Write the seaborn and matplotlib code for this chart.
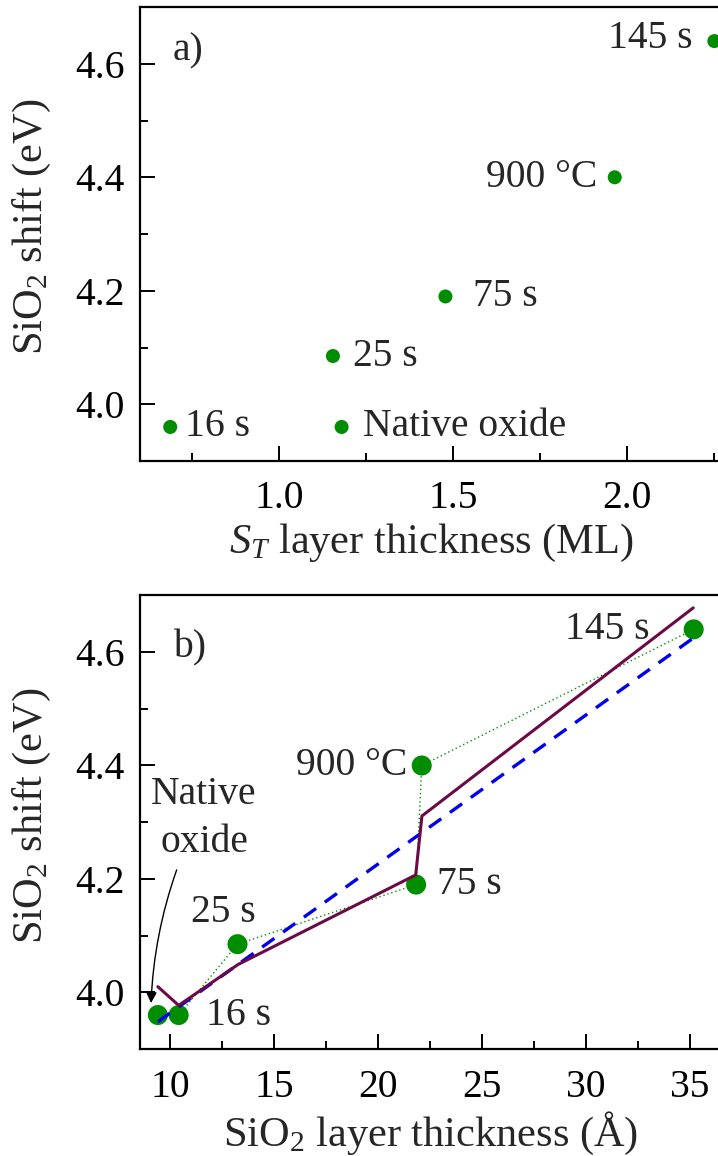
import numpy as np
import pandas as pd
import matplotlib
matplotlib.use("Agg")
import matplotlib.pyplot as plt
from matplotlib.ticker import MultipleLocator
import seaborn as sns

# ---- data ----
sample_labels = ["16 s", "Native oxide", "25 s", "75 s", "900 °C", "145 s"]
sio2_shift = [3.96, 3.96, 4.085, 4.19, 4.40, 4.64]          # eV
st_thickness = [0.688, 1.18, 1.155, 1.478, 1.964, 2.25]      # ML
sio2_thickness = [10.40, 9.40, 13.23, 21.82, 22.09, 35.17]   # Angstrom

# model curve evaluated at the sample thicknesses
model_x = [9.40, 10.40, 13.25, 21.80, 22.10, 35.15]
model_y = [4.010, 3.977, 4.049, 4.207, 4.311, 4.678]

# linear fit
fit_x = [9.40, 35.20]
fit_y = [3.948, 4.626]

sns.set_style("ticks")
plt.rcParams["font.family"] = ["Liberation Serif", "DejaVu Serif"]
plt.rcParams["mathtext.fontset"] = "custom"
plt.rcParams["mathtext.rm"] = "Liberation Serif"
plt.rcParams["mathtext.it"] = "Liberation Serif:italic"

FS = 28.5
FS_LABEL = 30.5
GREEN = "#008E00"
PURPLE = "#6B0A45"

fig = plt.figure(figsize=(7.18, 11.56), dpi=100)
ax_a = fig.add_axes([0.1944, 0.6012, 1.0061 - 0.1944, 0.9939 - 0.6012])
ax_b = fig.add_axes([0.1944, 0.0925, 1.0061 - 0.1944, 0.4850 - 0.0925])

df_a = pd.DataFrame({"x": st_thickness, "y": sio2_shift, "label": sample_labels})
df_b = pd.DataFrame({"x": sio2_thickness, "y": sio2_shift, "label": sample_labels})


def style_axes(ax):
    for side in ["left", "bottom", "top", "right"]:
        ax.spines[side].set_linewidth(1.6)
        ax.spines[side].set_color("black")
    ax.tick_params(which="both", direction="in", top=False, right=False,
                   width=1.4, colors="black", labelsize=FS)
    ax.tick_params(which="major", length=11)
    ax.tick_params(which="minor", length=5.5)
    ax.tick_params(axis="x", which="major", pad=14)
    ax.tick_params(axis="y", which="major", pad=11)
    ax.set_ylim(3.9, 4.7)
    ax.yaxis.set_major_locator(MultipleLocator(0.2))
    ax.yaxis.set_minor_locator(MultipleLocator(0.1))
    ax.yaxis.set_major_formatter(matplotlib.ticker.FormatStrFormatter("%.1f"))
    ax.set_ylabel("SiO$_2$ shift (eV)", fontsize=FS_LABEL)
    ax.yaxis.set_label_coords(-0.148, 0.515)


# ---- panel a ----
sns.scatterplot(data=df_a, x="x", y="y", ax=ax_a, color=GREEN, s=14 ** 2 * 0.52,
                edgecolor="none", legend=False, zorder=3, clip_on=False)
ax_a.set_xlim(0.6, 2.273)
ax_a.xaxis.set_major_locator(MultipleLocator(0.5))
ax_a.xaxis.set_minor_locator(MultipleLocator(0.25))
ax_a.xaxis.set_major_formatter(matplotlib.ticker.FormatStrFormatter("%.1f"))
style_axes(ax_a)
ax_a.set_xlabel("$S_T$ layer thickness (ML)", fontsize=FS_LABEL, labelpad=3)

offsets_a = {
    "16 s": (15, 0, "left"),
    "Native oxide": (21, 0, "left"),
    "25 s": (20, 0, "left"),
    "75 s": (28, 0, "left"),
    "900 °C": (-17, 0, "right"),
    "145 s": (-22, 3, "right"),
}
for xv, yv, lab in zip(st_thickness, sio2_shift, sample_labels):
    dx, dy, ha = offsets_a[lab]
    ax_a.annotate(lab, (xv, yv), xytext=(dx, dy), textcoords="offset pixels",
                  ha=ha, va="center", fontsize=FS)
ax_a.text(0.057, 0.903, "a)", transform=ax_a.transAxes, fontsize=FS,
          ha="left", va="center")

# ---- panel b ----
sns.scatterplot(data=df_b, x="x", y="y", ax=ax_b, color=GREEN, s=20 ** 2 * 0.52,
                edgecolor="none", legend=False, zorder=2, clip_on=False)
sns.lineplot(data=df_b, x="x", y="y", ax=ax_b, color=GREEN, lw=1.0,
             linestyle=(0, (1, 2)), sort=True, estimator=None, zorder=3)
sns.lineplot(x=fit_x, y=fit_y, ax=ax_b, color="#0000EE", lw=2.4,
             linestyle=(0, (4.5, 3.2)), zorder=4)
sns.lineplot(x=model_x, y=model_y, ax=ax_b, color=PURPLE, lw=2.2,
             sort=False, estimator=None, zorder=5)
ax_b.set_xlim(8.52, 36.55)
ax_b.xaxis.set_major_locator(MultipleLocator(5))
ax_b.xaxis.set_minor_locator(MultipleLocator(2.5))
style_axes(ax_b)
ax_b.set_xlabel("SiO$_2$ layer thickness (Å)", fontsize=FS_LABEL, labelpad=3)

offsets_b = {
    "16 s": (27, 0, "left"),
    "25 s": (-14, 32, "center"),
    "75 s": (21, 0, "left"),
    "900 °C": (-14, 0, "right"),
    "145 s": (-44, 0, "right"),
}
for xv, yv, lab in zip(sio2_thickness, sio2_shift, sample_labels):
    if lab == "Native oxide":
        ax_b.annotate("Native\noxide", xy=(xv - 0.33, yv + 0.021),
                      xytext=(11.62, 4.306), textcoords="data",
                      ha="center", va="center", fontsize=FS, linespacing=1.4,
                      arrowprops=dict(arrowstyle="-|>", color="black", lw=1.0,
                                      mutation_scale=16, shrinkA=4, shrinkB=0,
                                      relpos=(0.27, 0.0),
                                      connectionstyle="arc3,rad=0.08"))
        continue
    dx, dy, ha = offsets_b[lab]
    ax_b.annotate(lab, (xv, yv), xytext=(dx, dy), textcoords="offset pixels",
                  ha=ha, va="center", fontsize=FS)
ax_b.text(0.057, 0.884, "b)", transform=ax_b.transAxes, fontsize=FS,
          ha="left", va="center")

fig.savefig("out.png", dpi=100)
